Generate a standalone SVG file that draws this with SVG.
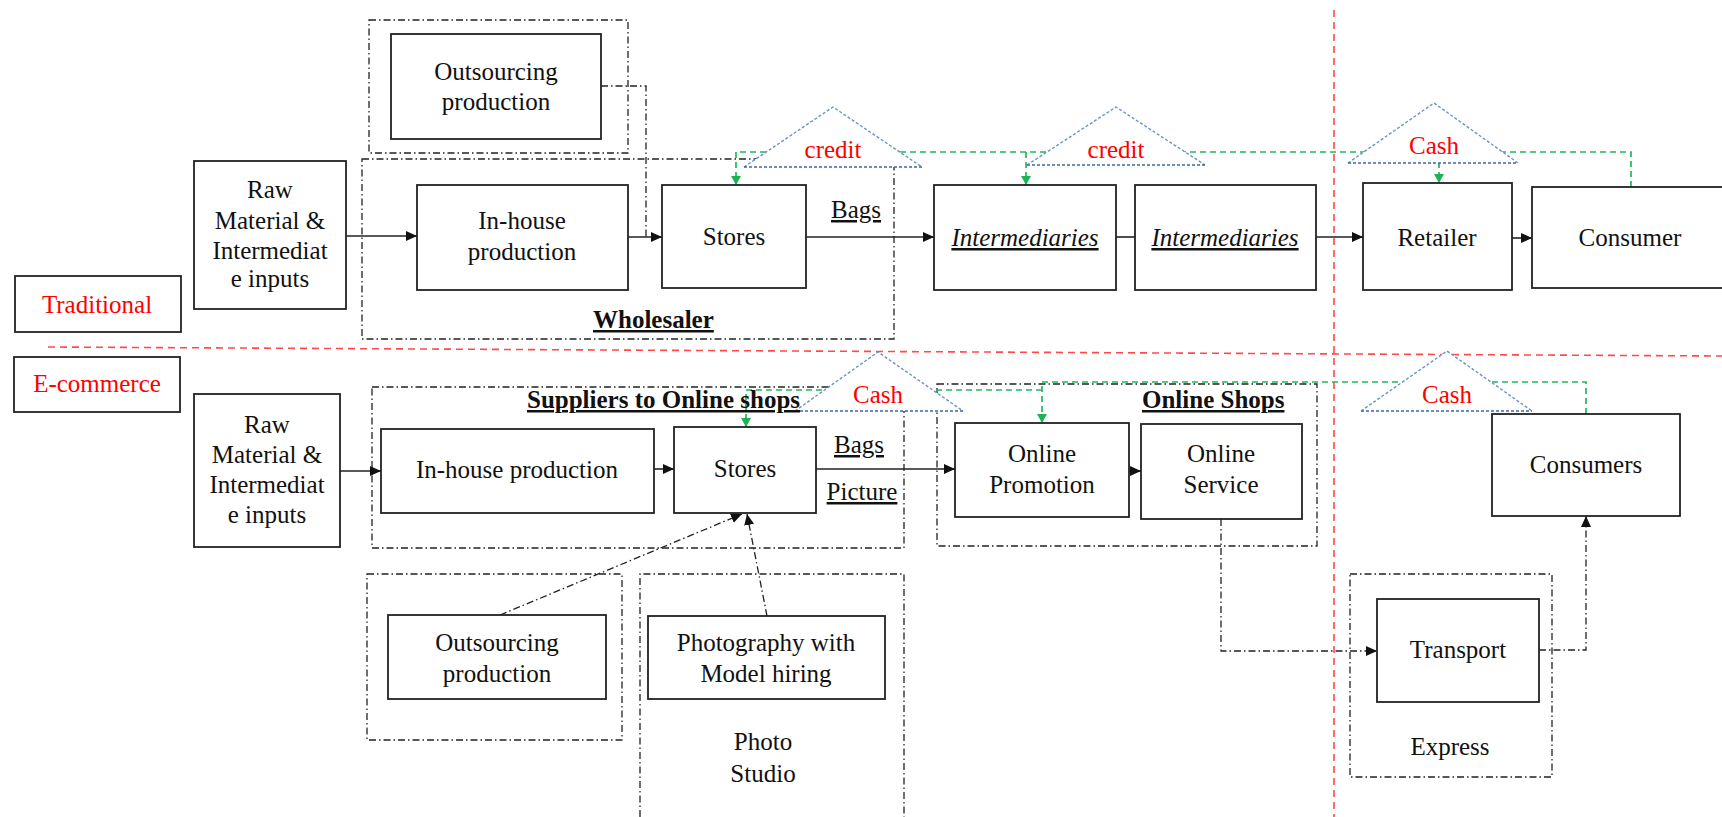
<svg xmlns="http://www.w3.org/2000/svg" width="1722" height="817" viewBox="0 0 1722 817">
<defs>
<style>
text{font-family:"Liberation Serif","Times New Roman",serif;font-size:25px;fill:#111;text-anchor:middle}
.red{fill:#ff0000}
.b{font-weight:bold;text-decoration:underline;text-anchor:start}
.u{text-decoration:underline}
.i{font-style:italic;text-decoration:underline}
.box{fill:#fff;stroke:#222;stroke-width:1.8}
.grp{fill:none;stroke:#222;stroke-width:1.3;stroke-dasharray:7 3 1.5 3}
.arr{fill:none;stroke:#222;stroke-width:1.6}
.dd{fill:none;stroke:#222;stroke-width:1.3;stroke-dasharray:7 3 1.5 3}
.grn{fill:none;stroke:#22b85a;stroke-width:1.7;stroke-dasharray:6 4}
.div{fill:none;stroke:#ff4a4a;stroke-width:1.6;stroke-dasharray:7 5}
.trif{fill:#fff;stroke:none}
.tris{fill:none;stroke:#6a93c6;stroke-width:1.4;stroke-dasharray:3 2}
.trib{fill:none;stroke:#3b67a8;stroke-width:1.5;stroke-dasharray:3 2}
</style>
<marker id="ah" markerUnits="userSpaceOnUse" markerWidth="12" markerHeight="10" refX="11" refY="5" orient="auto">
<path d="M0,0 L11,5 L0,10 z" fill="#111"/>
</marker>
<marker id="gh" markerUnits="userSpaceOnUse" markerWidth="10" markerHeight="10" refX="9" refY="5" orient="auto">
<path d="M0,0 L9,5 L0,10 z" fill="#1cb355"/>
</marker>
</defs>

<g id="dividers">
<line class="div" x1="48" y1="347" x2="1722" y2="356"/>
<line class="div" x1="1334" y1="10" x2="1334" y2="817"/>
</g>

<g id="containers">
<rect id="grp-outsourcing-top" class="grp" x="369" y="20" width="259" height="133"/>
<rect id="grp-wholesaler" class="grp" x="362" y="159" width="532" height="180"/>
<rect id="grp-suppliers" class="grp" x="372" y="387" width="532" height="161"/>
<rect id="grp-online-shops" class="grp" x="937" y="384" width="380" height="162"/>
<rect id="grp-outsourcing-bottom" class="grp" x="367" y="574" width="255" height="166"/>
<path id="grp-photo-studio" class="grp" d="M640,817 V574 H904 V817"/>
<rect id="grp-express" class="grp" x="1350" y="574" width="202" height="203"/>
</g>

<g id="connectors">
<line class="arr" x1="346" y1="236" x2="417" y2="236" marker-end="url(#ah)"/>
<line class="arr" x1="628" y1="237" x2="662" y2="237" marker-end="url(#ah)"/>
<polyline class="dd" points="601,86 646,86 646,237"/>
<line class="arr" x1="806" y1="237" x2="934" y2="237" marker-end="url(#ah)"/>
<line class="arr" x1="1116" y1="237" x2="1135" y2="237"/>
<line class="arr" x1="1316" y1="237" x2="1363" y2="237" marker-end="url(#ah)"/>
<line class="arr" x1="1512" y1="238" x2="1532" y2="238" marker-end="url(#ah)"/>

<line class="arr" x1="340" y1="471" x2="381" y2="471" marker-end="url(#ah)"/>
<line class="arr" x1="654" y1="469" x2="674" y2="469" marker-end="url(#ah)"/>
<line class="arr" x1="816" y1="469" x2="955" y2="469" marker-end="url(#ah)"/>
<line class="arr" x1="1129" y1="471" x2="1141" y2="471" marker-end="url(#ah)"/>
<polyline class="dd" points="1221,519 1221,651 1377,651" marker-end="url(#ah)"/>
<polyline class="dd" points="1539,650 1586,650 1586,516" marker-end="url(#ah)"/>
<line class="dd" x1="500" y1="615" x2="742" y2="514" marker-end="url(#ah)"/>
<line class="dd" x1="767" y1="616" x2="747" y2="514" marker-end="url(#ah)"/>

<polyline class="grn" points="1631,187 1631,152 736,152 736,185" marker-end="url(#gh)"/>
<line class="grn" x1="1026" y1="152" x2="1026" y2="185" marker-end="url(#gh)"/>
<line class="grn" x1="1439" y1="152" x2="1439" y2="183" marker-end="url(#gh)"/>
<polyline class="grn" points="1586,414 1586,382 1042,382 1042,423" marker-end="url(#gh)"/>
<polyline class="grn" points="1042,390 746,390 746,427" marker-end="url(#gh)"/>
</g>

<g id="tri-credit-1">
<polygon class="trif" points="833,107 744,167 922,167"/>
<polyline class="tris" points="744,167 833,107 922,167"/>
<line class="trib" x1="744" y1="167" x2="922" y2="167"/>
<text class="red" x="833" y="158">credit</text>
</g>
<g id="tri-credit-2">
<polygon class="trif" points="1116,107 1027,165 1205,165"/>
<polyline class="tris" points="1027,165 1116,107 1205,165"/>
<line class="trib" x1="1027" y1="165" x2="1205" y2="165"/>
<text class="red" x="1116" y="158">credit</text>
</g>
<g id="tri-cash-1">
<polygon class="trif" points="1434,103 1348,163 1518,163"/>
<polyline class="tris" points="1348,163 1434,103 1518,163"/>
<line class="trib" x1="1348" y1="163" x2="1518" y2="163"/>
<text class="red" x="1434" y="154">Cash</text>
</g>
<g id="tri-cash-2">
<polygon class="trif" points="878,352 795,411 963,411"/>
<polyline class="tris" points="795,411 878,352 963,411"/>
<line class="trib" x1="795" y1="411" x2="963" y2="411"/>
<text class="red" x="878" y="403">Cash</text>
</g>
<g id="tri-cash-3">
<polygon class="trif" points="1447,351 1361,411 1532,411"/>
<polyline class="tris" points="1361,411 1447,351 1532,411"/>
<line class="trib" x1="1361" y1="411" x2="1532" y2="411"/>
<text class="red" x="1447" y="403">Cash</text>
</g>

<g id="traditional"><rect class="box" x="15" y="276" width="166" height="56"/><text class="red" x="97" y="313">Traditional</text></g>
<g id="ecommerce"><rect class="box" x="14" y="357" width="166" height="55"/><text class="red" x="97" y="392">E-commerce</text></g>

<g id="raw-top"><rect class="box" x="194" y="161" width="152" height="148"/>
<text x="270" y="198">Raw</text><text x="270" y="229">Material &amp;</text><text x="270" y="259">Intermediat</text><text x="270" y="287">e inputs</text></g>
<g id="outsourcing-top"><rect class="box" x="391" y="34" width="210" height="105"/>
<text x="496" y="80">Outsourcing</text><text x="496" y="110">production</text></g>
<g id="inhouse-top"><rect class="box" x="417" y="185" width="211" height="105"/>
<text x="522" y="229">In-house</text><text x="522" y="260">production</text></g>
<g id="stores-top"><rect class="box" x="662" y="185" width="144" height="103"/><text x="734" y="245">Stores</text></g>
<g id="intermediaries-1"><rect class="box" x="934" y="185" width="182" height="105"/><text class="i" x="1025" y="246">Intermediaries</text></g>
<g id="intermediaries-2"><rect class="box" x="1135" y="185" width="181" height="105"/><text class="i" x="1225" y="246">Intermediaries</text></g>
<g id="retailer"><rect class="box" x="1363" y="183" width="149" height="107"/><text x="1437" y="246">Retailer</text></g>
<g id="consumer"><rect class="box" x="1532" y="187" width="200" height="101"/><text x="1630" y="246">Consumer</text></g>

<g id="raw-bottom"><rect class="box" x="194" y="394" width="146" height="153"/>
<text x="267" y="433">Raw</text><text x="267" y="463">Material &amp;</text><text x="267" y="493">Intermediat</text><text x="267" y="523">e inputs</text></g>
<g id="inhouse-bottom"><rect class="box" x="381" y="429" width="273" height="84"/><text x="517" y="478">In-house production</text></g>
<g id="stores-bottom"><rect class="box" x="674" y="427" width="142" height="86"/><text x="745" y="477">Stores</text></g>
<g id="online-promotion"><rect class="box" x="955" y="423" width="174" height="94"/><text x="1042" y="462">Online</text><text x="1042" y="493">Promotion</text></g>
<g id="online-service"><rect class="box" x="1141" y="424" width="161" height="95"/><text x="1221" y="462">Online</text><text x="1221" y="493">Service</text></g>
<g id="consumers"><rect class="box" x="1492" y="414" width="188" height="102"/><text x="1586" y="473">Consumers</text></g>
<g id="transport"><rect class="box" x="1377" y="599" width="162" height="103"/><text x="1458" y="658">Transport</text></g>
<g id="outsourcing-bottom"><rect class="box" x="388" y="615" width="218" height="84"/><text x="497" y="651">Outsourcing</text><text x="497" y="682">production</text></g>
<g id="photography"><rect class="box" x="648" y="616" width="237" height="83"/><text x="766" y="651">Photography with</text><text x="766" y="682">Model hiring</text></g>

<g id="labels">
<text class="u" x="856" y="218">Bags</text>
<text class="u" x="859" y="453">Bags</text>
<text class="u" x="862" y="500">Picture</text>
<text class="b" x="593" y="328">Wholesaler</text>
<text class="b" x="527" y="408">Suppliers to Online shops</text>
<text class="b" x="1142" y="408">Online Shops</text>
<text x="763" y="750">Photo</text>
<text x="763" y="782">Studio</text>
<text x="1450" y="755">Express</text>
</g>
</svg>
